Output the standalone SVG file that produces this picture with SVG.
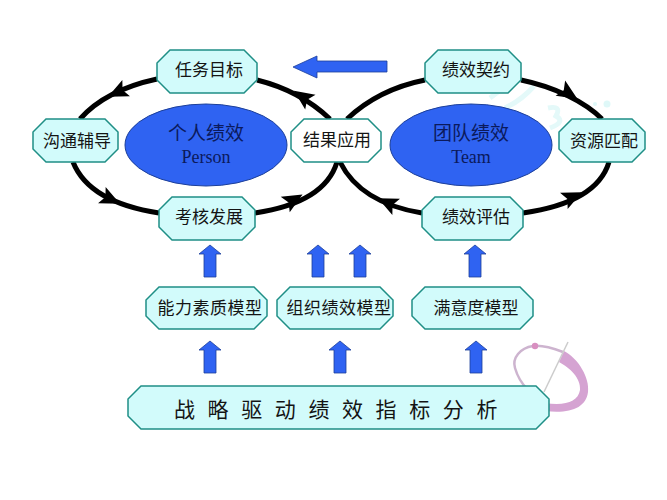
<svg xmlns="http://www.w3.org/2000/svg" width="667" height="500" viewBox="0 0 667 500">
<style>
.n{fill:#d2fbfb;stroke:#1f8f86;stroke-width:1.5}
.w{fill:#fff;stroke:#1f8f86;stroke-width:1.5}
.e{fill:#2f63f2;stroke:#1c3f9a;stroke-width:1}
.t{font-family:"Noto Sans CJK SC","Liberation Sans",sans-serif;font-size:17px;fill:#141414;text-anchor:middle}
.h{font-family:"Noto Sans CJK SC","Liberation Sans",sans-serif;font-size:19px;fill:#0b1a5c;text-anchor:middle}
.l{font-family:"Liberation Serif",serif;font-size:18px;fill:#0b1a5c;text-anchor:middle}
.ring{fill:none;stroke:#000;stroke-width:5}
.head{fill:#000}
.up{fill:#2f63f2;stroke:#1c3f9a;stroke-width:.8}
</style>
<defs>
<path id="head" class="head" d="M11 0L-9 -9L-5 0L-9 9Z"/>
<path id="up" class="up" d="M0 0L11 9L6 9L6 32L-6 32L-6 9L-11 9Z"/>
</defs>
<rect width="667" height="500" fill="#fff"/>
<g id="watermark" fill="none" stroke="#e4f9f9" stroke-width="5">
<path d="M490 98L503 88M505 108Q522 100 534 86"/>
<path d="M548 108Q562 105 556 116Q566 122 550 128"/>
<circle cx="607" cy="104" r="3.5" fill="#dff8f8" stroke="none"/>
<circle cx="595" cy="104" r="2" fill="#dff8f8" stroke="none"/>
</g>
<g id="logo">
<path d="M563 352C550 347 540 345 533 346C520 348 512 358 515 368C517 375 522 384 528 390" fill="none" stroke="#cdb4cf" stroke-width="2.5"/>
<path d="M564 351C578 358 590 378 588 392C586 408 570 414 545 411L545 403C565 406 578 402 580 390C581 378 570 368 559 362Z" fill="#d5a3d2"/>
<path d="M568 342L544 392" stroke="#cccccc" stroke-width="1.5" fill="none"/>
<circle cx="535" cy="346" r="3.2" fill="#d88fc0"/>
</g>
<g id="connectors">
<g class="ring">
<path d="M157 79C120 87 95 102 80 119"/>
<path d="M73 162C85 192 120 207 159 213"/>
<path d="M255 213C295 207 328 192 337 162"/>
<path d="M330 119C310 100 285 87 257 80"/>
<path d="M425 80C390 87 365 102 347 119"/>
<path d="M340 162C355 192 385 207 422 213"/>
<path d="M523 213C565 207 600 192 609 162"/>
<path d="M602 119C585 102 555 87 521 80"/>
</g>
<use href="#head" transform="translate(118 92) rotate(155)"/>
<use href="#head" transform="translate(110 199) rotate(25)"/>
<use href="#head" transform="translate(293 200) rotate(-30)"/>
<use href="#head" transform="translate(303 97) rotate(-145)"/>
<use href="#head" transform="translate(568 93) rotate(32)"/>
<use href="#head" transform="translate(572 197) rotate(-25)"/>
<use href="#head" transform="translate(388 203) rotate(-155)"/>
<path id="big-arrow" class="up" d="M293 67L317 56L317 61L387 61L387 72L317 72L317 78Z"/>
<use href="#up" x="210" y="245"/>
<use href="#up" x="318" y="245"/>
<use href="#up" x="360" y="245"/>
<use href="#up" x="475" y="245"/>
<use href="#up" x="210" y="341"/>
<use href="#up" x="340" y="341"/>
<use href="#up" x="476" y="341"/>
</g>
<g id="person"><ellipse class="e" cx="206" cy="145" rx="81" ry="41"/><text class="h" x="206" y="140">个人绩效</text><text class="l" x="206" y="163">Person</text></g>
<g id="team"><ellipse class="e" cx="471" cy="145" rx="81" ry="41"/><text class="h" x="471" y="140">团队绩效</text><text class="l" x="471" y="163">Team</text></g>
<g id="n1"><path class="n" d="M170 50H244L257 63V80L244 93H170L157 80V63Z"/><text class="t" x="209" y="76">任务目标</text></g>
<g id="n2"><path class="n" d="M46 119H105L118 132V149L105 162H46L33 149V132Z"/><text class="t" x="77" y="147">沟通辅导</text></g>
<g id="n3"><path class="w" d="M304 119H368L381 132V149L368 162H304L291 149V132Z"/><text class="t" x="337" y="146">结果应用</text></g>
<g id="n4"><path class="n" d="M172 197H242L255 210V227L242 240H172L159 227V210Z"/><text class="t" x="209" y="223">考核发展</text></g>
<g id="n5"><path class="n" d="M438 50H508L521 63V80L508 93H438L425 80V63Z"/><text class="t" x="476" y="76">绩效契约</text></g>
<g id="n6"><path class="n" d="M572 119H632L645 132V149L632 162H572L559 149V132Z"/><text class="t" x="604" y="147">资源匹配</text></g>
<g id="n7"><path class="n" d="M435 197H510L523 210V227L510 240H435L422 227V210Z"/><text class="t" x="476" y="223">绩效评估</text></g>
<g id="m1"><path class="n" d="M159 287H254L267 300V316L254 329H159L146 316V300Z"/><text class="t" x="210" y="314" letter-spacing=".5">能力素质模型</text></g>
<g id="m2"><path class="n" d="M290 287H380L393 300V316L380 329H290L277 316V300Z"/><text class="t" x="339" y="314" letter-spacing=".5">组织绩效模型</text></g>
<g id="m3"><path class="n" d="M425 287H520L533 300V316L520 329H425L412 316V300Z"/><text class="t" x="476" y="314">满意度模型</text></g>
<g id="base"><path class="n" d="M141 386H536L549 399V416L536 429H141L128 416V399Z"/><text x="174" y="417" style="font-family:'Noto Sans CJK SC','Liberation Sans',sans-serif;font-size:21px;letter-spacing:12.6px;fill:#141414">战略驱动绩效指标分析</text></g>
</svg>
